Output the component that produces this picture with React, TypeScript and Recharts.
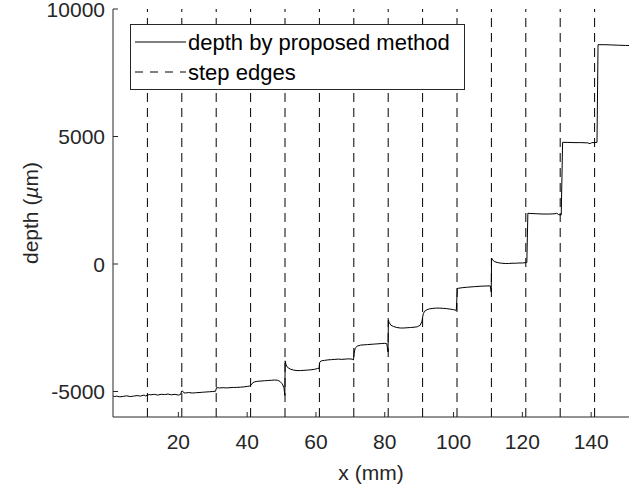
import React from 'react';
import { LineChart, Line, XAxis, YAxis, ReferenceLine, Legend } from 'recharts';

const xValues = [
  1, 1.5, 2, 3, 4, 5, 6, 7, 8, 9, 10, 10.5, 11,
  11.5, 12, 13, 14, 15, 16, 17, 18, 19, 20, 20.6,
  21, 21.3, 21.6, 22, 23, 24, 25, 26, 27, 28, 29, 30, 30.8,
  31.1, 32, 33, 34, 35, 36, 37, 38, 39, 40, 40.6,
  41.2, 41.6, 42.2, 43, 44, 45, 46, 47, 48, 48.8, 49.5, 50.2, 50.7, 50.95,
  51.05, 51.3, 51.7, 52.5, 53.5, 54.5, 55.5, 56.5, 57.5, 58.5, 59.5, 60.5, 60.9,
  61.1, 61.5, 62.5, 63.5, 64.5, 65.5, 66.5, 67.5, 68.5, 69.5, 70.5, 70.9,
  71.1, 71.4, 72, 73, 74, 75, 76, 77, 78, 79, 80, 80.6, 80.95,
  81.05, 81.3, 81.8, 82.5, 83.5, 84.5, 85.5, 86.5, 87.5, 88.5, 89.5, 90.3, 90.8,
  91.2, 91.6, 92.3, 93, 94, 95, 96, 97, 98, 99, 100, 100.8,
  101.1, 101.5, 102.5, 104, 106, 108, 110, 110.7, 110.95,
  111.05, 111.4, 112, 113, 114, 115, 116, 117, 118, 119, 120, 120.8, 121.3,
  121.6, 122.5, 124, 126, 128, 129.5, 130, 130.5, 131.3,
  131.7, 133, 135, 137, 139, 139.7, 140.2, 141, 141.7,
  142, 144, 146, 148, 150, 151,
];

const depthValues = [
  -5170, -5200, -5180, -5210, -5190, -5170, -5200, -5180, -5160, -5180, -5140, -5170, -5150,
  -5120, -5130, -5110, -5140, -5110, -5120, -5100, -5130, -5110, -5140, -5120,
  -4980, -4990, -5050, -5060, -5040, -5060, -5050, -5040, -5030, -5020, -5010, -5000, -4990,
  -4850, -4860, -4850, -4860, -4850, -4840, -4840, -4830, -4820, -4800, -4790,
  -4740, -4660, -4620, -4600, -4590, -4580, -4570, -4560, -4550, -4560, -4600, -4700, -4850, -5150,
  -3800, -3950, -4050, -4120, -4160, -4180, -4180, -4170, -4160, -4150, -4130, -4100, -4090,
  -3850, -3800, -3780, -3760, -3750, -3740, -3730, -3740, -3730, -3720, -3730, -3760,
  -3500, -3300, -3220, -3180, -3170, -3160, -3150, -3140, -3130, -3120, -3110, -3130, -3450,
  -2200, -2300, -2400, -2450, -2490, -2510, -2510, -2500, -2490, -2480, -2460, -2400, -2250,
  -1950, -1850, -1790, -1760, -1740, -1730, -1730, -1740, -1750, -1770, -1790, -1820,
  -960, -950, -930, -910, -890, -870, -860, -860, -1100,
  230, 150, 90, 50, 30, 20, 20, 30, 30, 40, 40, 50, 60,
  1990, 1980, 1970, 1960, 1960, 1970, 1990, 1940, 1920,
  4770, 4770, 4760, 4760, 4750, 4720, 4760, 4760, 4770,
  8600, 8600, 8590, 8580, 8570, 8570,
];

const stepEdges = [11, 21, 31, 41, 51, 61, 71, 81, 91, 101, 111, 121, 131, 141];
const xTicks = [20, 40, 60, 80, 100, 120, 140];
const yTicks = [-5000, 0, 5000, 10000];
const xDomain = [1, 151];
const yDomain = [-6000, 10000];
const seriesNames = ['depth by proposed method', 'step edges'];

const data = xValues.map((x, i) => ({ x, depth: depthValues[i] }));

const AXIS = '#262626';
const FONT = '"Liberation Sans", Arial, Helvetica, sans-serif';
const TICK_LEN = 5;
const TICK_FS = 21;
const DASH = '9 6';

const BottomTick = (props: any) => {
  const { x, y, payload } = props;
  return (
    <g>
      <line x1={x} y1={y} x2={x} y2={y - TICK_LEN} stroke={AXIS} strokeWidth={1} />
      <text x={x} y={y + 32} textAnchor="middle" fill={AXIS} fontSize={TICK_FS} fontFamily={FONT}>
        {String(payload.value)}
      </text>
    </g>
  );
};

const TopTick = (props: any) => {
  const { x, y } = props;
  return <line x1={x} y1={y} x2={x} y2={y + TICK_LEN} stroke={AXIS} strokeWidth={1} />;
};

const LeftTick = (props: any) => {
  const { x, y, payload } = props;
  return (
    <g>
      <line x1={x} y1={y} x2={x + TICK_LEN} y2={y} stroke={AXIS} strokeWidth={1} />
      <text x={x - 8} y={y + 7.5} textAnchor="end" fill={AXIS} fontSize={TICK_FS} fontFamily={FONT}>
        {String(payload.value)}
      </text>
    </g>
  );
};

const RightTick = (props: any) => {
  const { x, y } = props;
  return <line x1={x} y1={y} x2={x - TICK_LEN} y2={y} stroke={AXIS} strokeWidth={1} />;
};

const YLabel = () => (
  <text
    x={30}
    y={213}
    transform="rotate(-90 30 213)"
    textAnchor="middle"
    fill={AXIS}
    fontSize={TICK_FS}
    fontFamily={FONT}
    dominantBaseline="central"
  >
    depth (<tspan fontStyle="italic">µ</tspan>m)
  </text>
);

const XLabel = () => (
  <text x={371} y={480} textAnchor="middle" fill={AXIS} fontSize={TICK_FS} fontFamily={FONT}>
    x (mm)
  </text>
);

const LegendBox = () => (
  <svg width={335} height={66} style={{ display: 'block' }}>
    <rect x={0.5} y={0.5} width={334} height={65} fill="#fff" stroke={AXIS} strokeWidth={1} />
    <line x1={5} y1={18} x2={56} y2={18} stroke="#000" strokeWidth={1} />
    <text x={58} y={25.5} fontSize={22} fontFamily={FONT} fill="#000">{seriesNames[0]}</text>
    <line x1={5} y1={48} x2={56} y2={48} stroke="#000" strokeWidth={1} strokeDasharray="8 7" />
    <text x={58} y={55.5} fontSize={22} fontFamily={FONT} fill="#000">{seriesNames[1]}</text>
  </svg>
);

export default function App() {
  return (
    <div style={{ position: 'absolute', left: 0, top: 0, background: '#fff' }}>
      <LineChart
        width={644}
        height={489}
        data={data}
        margin={{ top: 9, right: 15, left: 0, bottom: 0 }}
      >
        <XAxis
          dataKey="x"
          type="number"
          domain={xDomain}
          ticks={xTicks}
          interval={0}
          allowDataOverflow
          height={72}
          tickSize={0}
          tickMargin={0}
          tick={<BottomTick />}
          axisLine={{ stroke: AXIS, strokeWidth: 1 }}
          tickLine={false}
          label={<XLabel />}
        />
        <XAxis
          xAxisId="top"
          orientation="top"
          dataKey="x"
          type="number"
          domain={xDomain}
          ticks={xTicks}
          interval={0}
          allowDataOverflow
          height={0}
          tickSize={0}
          tickMargin={0}
          tick={<TopTick />}
          axisLine={{ stroke: AXIS, strokeWidth: 1 }}
          tickLine={false}
        />
        <YAxis
          type="number"
          domain={yDomain}
          ticks={yTicks}
          interval={0}
          allowDataOverflow
          width={113}
          tickSize={0}
          tickMargin={0}
          tick={<LeftTick />}
          axisLine={{ stroke: AXIS, strokeWidth: 1 }}
          tickLine={false}
          label={<YLabel />}
        />
        <YAxis
          yAxisId="right"
          orientation="right"
          type="number"
          domain={yDomain}
          ticks={yTicks}
          interval={0}
          allowDataOverflow
          width={0}
          tickSize={0}
          tickMargin={0}
          tick={<RightTick />}
          axisLine={{ stroke: AXIS, strokeWidth: 1 }}
          tickLine={false}
        />
        {stepEdges.map((e) => (
          <ReferenceLine
            key={e}
            x={e}
            stroke="#000"
            strokeWidth={1}
            strokeDasharray={DASH}
            ifOverflow="hidden"
          />
        ))}
        <Line
          dataKey="depth"
          type="linear"
          stroke="#000"
          strokeWidth={1}
          dot={false}
          activeDot={false}
          isAnimationActive={false}
          name={seriesNames[0]}
        />
        <Legend
          layout="vertical"
          align="center"
          verticalAlign="middle"
          content={<LegendBox />}
          wrapperStyle={{ position: 'absolute', left: 130, top: 24, width: 335, height: 66, margin: 0 }}
        />
      </LineChart>
    </div>
  );
}
